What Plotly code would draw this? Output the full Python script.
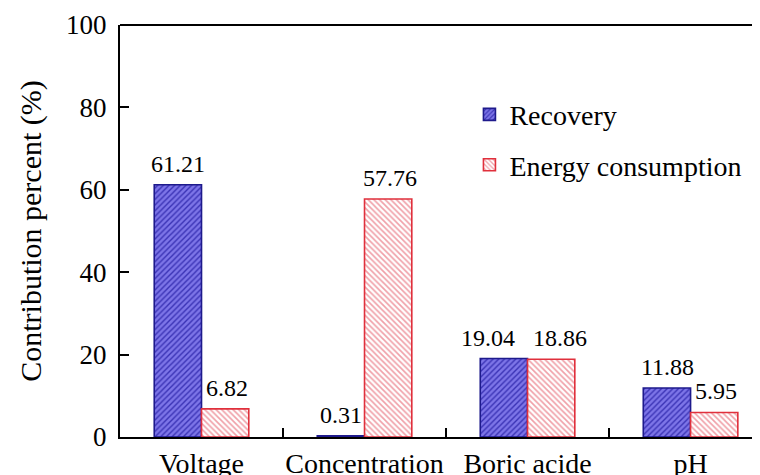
import plotly.graph_objects as go

categories = ["Voltage", "Concentration", "Boric acide", "pH"]
recovery = [61.21, 0.31, 19.04, 11.88]
energy = [6.82, 57.76, 18.86, 5.95]
series_names = ["Recovery", "Energy consumption"]
y_ticks = [0, 20, 40, 60, 80, 100]

FONT = "Liberation Serif, Times New Roman, serif"

fig = go.Figure()
fig.add_trace(go.Bar(
    x=categories, y=recovery, name=series_names[0], legendgroup="a",
    marker=dict(
        color="#7a72e4",
        line=dict(color="#1e1a8c", width=1.6),
        pattern=dict(shape="/", bgcolor="#7d75e8", fgcolor="#3a33b5",
                     size=4, solidity=0.35, fillmode="replace"),
    ),
))
fig.add_trace(go.Bar(
    x=categories, y=energy, name=series_names[1], legendgroup="b",
    marker=dict(
        color="#ffffff",
        line=dict(color="#e0303c", width=1.6),
        pattern=dict(shape="\\", bgcolor="#ffffff", fgcolor="#f0a0a8",
                     size=4, solidity=0.4, fillmode="replace"),
    ),
))

# value labels (annotations from the data arrays)
half = 23.5  # half bar width in px
for cat, rv, ev in zip(categories, recovery, energy):
    lnudge = 16 if cat == "Boric acide" else 0
    rnudge = 9 if cat == "Boric acide" else 2
    fig.add_annotation(x=cat, y=rv, xref="x", yref="y", text=f"{rv:.2f}",
                       showarrow=False, yanchor="bottom", xshift=-half - lnudge,
                       yshift=6, font=dict(size=24, family=FONT, color="black"))
    fig.add_annotation(x=cat, y=ev, xref="x", yref="y", text=f"{ev:.2f}",
                       showarrow=False, yanchor="bottom", xshift=half + rnudge,
                       yshift=6, font=dict(size=24, family=FONT, color="black"))

fig.update_layout(
    width=760, height=475,
    margin=dict(l=112, r=8, t=17, b=46),
    paper_bgcolor="white", plot_bgcolor="white",
    font=dict(family=FONT, size=27, color="black"),
    barmode="group", bargap=0.42, bargroupgap=0,
    showlegend=True,
    legend=dict(x=0.546, y=0.843, xanchor="left", yanchor="top",
                font=dict(size=28), tracegroupgap=11,
                bgcolor="rgba(0,0,0,0)", itemwidth=30),
    xaxis=dict(
        range=[-0.5, 3.426], showline=True, linecolor="black", linewidth=2,
        mirror=False, ticks="inside", tickson="boundaries", ticklen=9,
        tickwidth=1.5, tickcolor="black", showgrid=False, tickangle=0,
        tickfont=dict(size=28), automargin=False,
    ),
    yaxis=dict(
        range=[0, 100], tickvals=y_ticks, showline=True, linecolor="black",
        linewidth=2, mirror=False, ticks="inside", ticklen=9, tickwidth=1.5,
        tickcolor="black", showgrid=False, zeroline=False, ticklabelstandoff=6,
        tickfont=dict(size=27), automargin=False,
        title=dict(text="Contribution percent (%)", font=dict(size=30), standoff=16),
    ),
)
# top frame line
fig.add_shape(type="line", xref="paper", yref="paper", x0=0, x1=1, y0=1, y1=1,
              line=dict(color="black", width=2))

fig.write_html("out.html")
